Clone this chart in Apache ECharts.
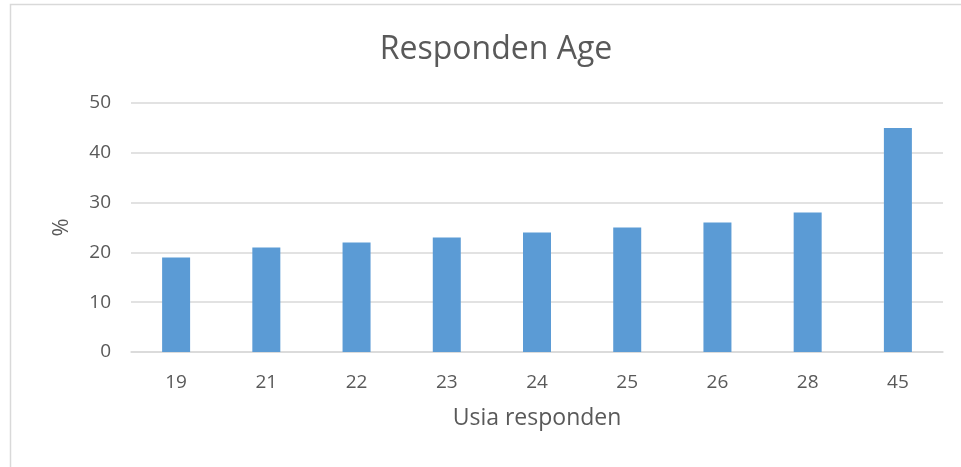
<!DOCTYPE html>
<html>
<head>
<meta charset="utf-8">
<script src="https://cdn.jsdelivr.net/npm/echarts@6/dist/echarts.min.js"></script>
<style>
  html, body { margin: 0; padding: 0; background: #fff; }
  #chart { width: 961px; height: 467px; }
</style>
</head>
<body>
<div id="chart"></div>
<script>
  // data
  var ages = ['19', '21', '22', '23', '24', '25', '26', '28', '45'];
  var percent = [19, 21, 22, 23, 24, 25, 26, 28, 45];
  var yTicks = { min: 0, max: 50, interval: 10 };

  var textColor = '#595959';
  var lineColor = '#D9D9D9';
  var font = '"Open Sans", sans-serif';

  var chart = echarts.init(document.getElementById('chart'));
  var option = {
    animation: false,
    backgroundColor: '#fff',
    graphic: [{
      type: 'rect',
      shape: { x: 10.5, y: 4.5, width: 960, height: 470 },
      style: { fill: 'none', stroke: '#D9D9D9', lineWidth: 1.5 },
      silent: true
    }],
    title: {
      text: 'Responden Age',
      left: 491,
      top: 29,
      textAlign: 'center',
      textStyle: { color: textColor, fontFamily: font, fontSize: 32, fontWeight: 'normal' }
    },
    grid: { left: 131, right: 18, top: 103, bottom: 115 },
    xAxis: {
      type: 'category',
      data: ages,
      name: 'Usia responden',
      nameLocation: 'middle',
      nameGap: 55,
      nameTextStyle: { color: textColor, fontFamily: font, fontSize: 23 },
      axisLine: { lineStyle: { color: lineColor, width: 1.5 } },
      axisTick: { show: false },
      axisLabel: { color: textColor, fontFamily: font, fontSize: 19, margin: 21 }
    },
    yAxis: {
      type: 'value',
      min: yTicks.min,
      max: yTicks.max,
      interval: yTicks.interval,
      name: '%',
      nameLocation: 'middle',
      nameGap: 58,
      nameTextStyle: { color: textColor, fontFamily: font, fontSize: 22 },
      axisLine: { show: false },
      axisTick: { show: false },
      axisLabel: { color: textColor, fontFamily: font, fontSize: 19, margin: 20 },
      splitLine: { lineStyle: { color: lineColor, width: 1.5 } }
    },
    series: [{
      type: 'bar',
      data: percent,
      barWidth: 28,
      itemStyle: { color: '#5B9BD5' }
    }]
  };
  chart.setOption(option);
</script>
</body>
</html>
